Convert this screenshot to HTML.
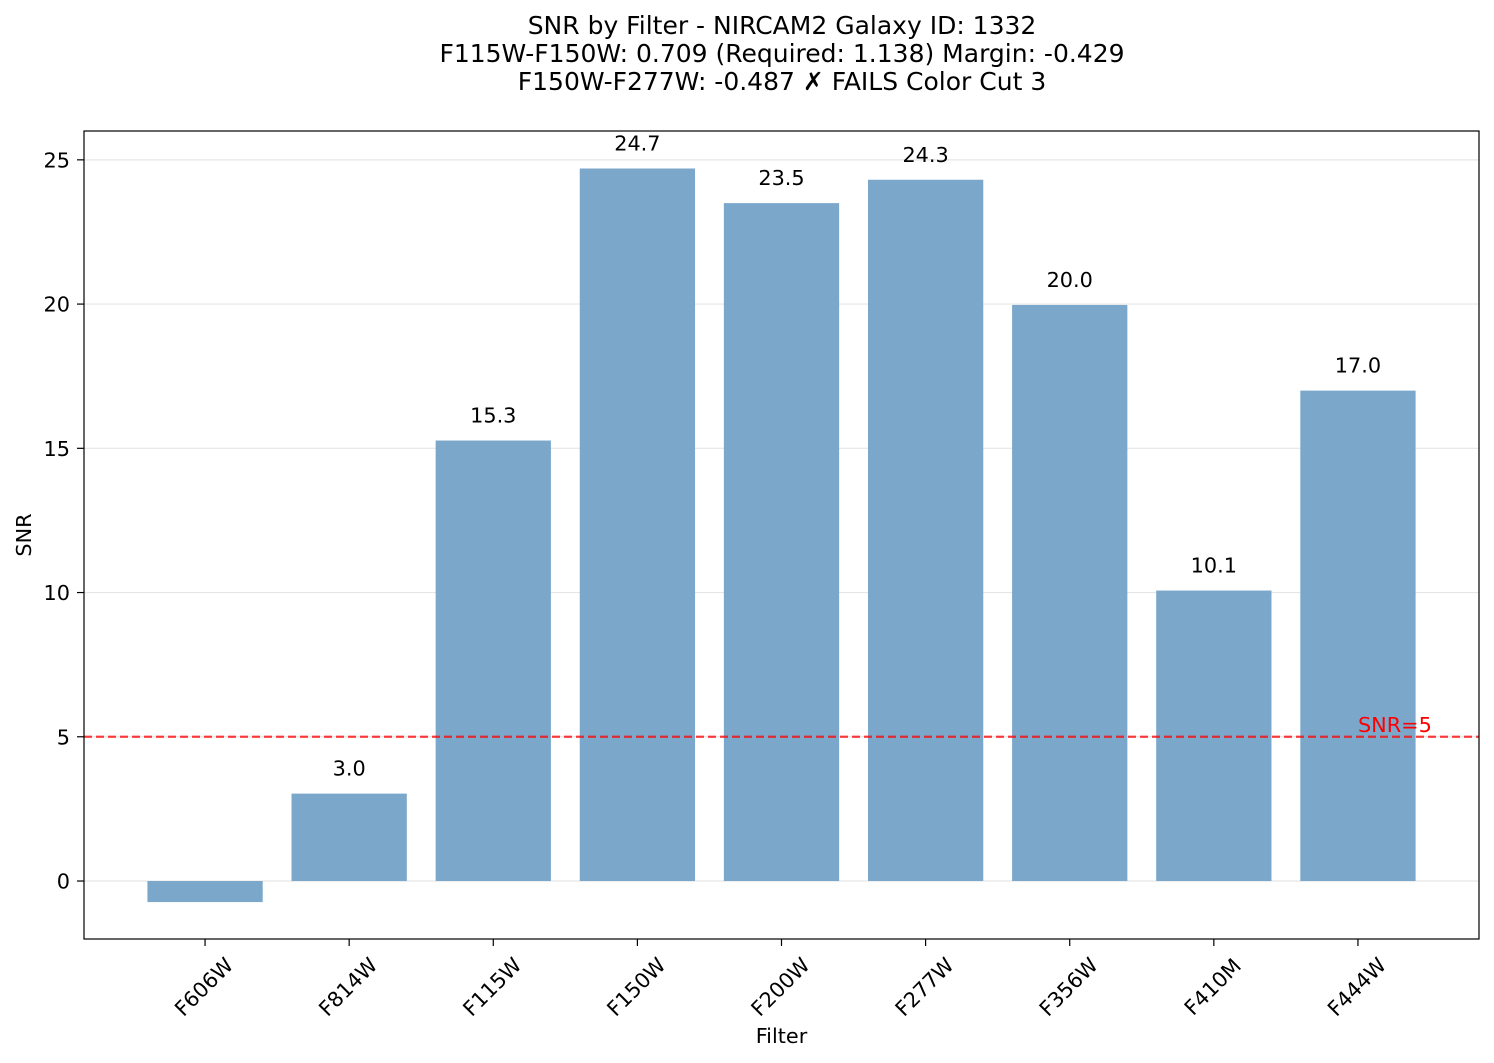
<!DOCTYPE html>
<html><head><meta charset="utf-8"><style>
body{margin:0;background:#fff;}
svg{display:block;font-family:"DejaVu Sans","Liberation Sans",sans-serif;}
</style></head><body>
<svg id="chart" width="1494" height="1063">
<g id="g"></g>
</svg>
<script>
const categories=["F606W","F814W","F115W","F150W","F200W","F277W","F356W","F410M","F444W"];
const snrValues=[-0.73,3.03,15.27,24.7,23.5,24.31,19.97,10.07,17.0];
const valueLabels=["","3.0","15.3","24.7","23.5","24.3","20.0","10.1","17.0"];
const yTicks=[0,5,10,15,20,25];
const threshold=5;
const L=84,R=1479,T=131,B=939;
const xmin=-0.84,xmax=8.84,ymin=-2.01,ymax=26.0;
const X=v=>L+(v-xmin)/(xmax-xmin)*(R-L);
const Y=v=>B-(v-ymin)/(ymax-ymin)*(B-T);
const NS="http://www.w3.org/2000/svg";
const g=document.getElementById('g');
const FS=20.8;
function el(t,a,txt){const e=document.createElementNS(NS,t);for(const k in a)e.setAttribute(k,a[k]);if(txt!==undefined)e.textContent=txt;g.appendChild(e);return e;}
yTicks.forEach(v=>{
 const l=el('line',{x1:L,x2:R,y1:Y(v),y2:Y(v),stroke:'#e6e6e6','stroke-width':1.2});
 
 
 const tk=el('line',{x1:L-7,x2:L,y1:Y(v),y2:Y(v),stroke:'#000','stroke-width':1.2});
 
 
 const t=el('text',{x:L-14,y:Y(v)+7.5,'text-anchor':'end','font-size':FS},String(v));
 
 
});
const bw=0.8*(X(1)-X(0));
categories.forEach((c,i)=>{
 const v=snrValues[i],cx=X(i);
 const r=el('rect',{x:cx-bw/2,y:Math.min(Y(v),Y(0)),width:bw,height:Math.abs(Y(v)-Y(0)),fill:'#7ba7cb'});
 
 
 if(valueLabels[i]){
  const t=el('text',{x:cx,y:Y(v)-18,'text-anchor':'middle','font-size':FS},valueLabels[i]);
  
  
 }
 const tk=el('line',{x1:cx,x2:cx,y1:B,y2:B+7,stroke:'#000','stroke-width':1.2});
 
 
 const t=el('text',{x:0,y:7,'text-anchor':'middle','font-size':FS,transform:`translate(${cx-1} ${B+48}) rotate(-45)`},c);
 
 
});
const th=el('line',{x1:L,x2:R,y1:Y(threshold),y2:Y(threshold),stroke:'#ff0000','stroke-opacity':0.75,'stroke-width':2.2,'stroke-dasharray':'8,4'});


const tl=el('text',{x:X(8),y:Y(threshold)-5,'font-size':FS,fill:'#ff0000'},'SNR='+threshold);


const fr=el('rect',{x:L,y:T,width:R-L,height:B-T,fill:'none',stroke:'#000','stroke-width':1.2});


const xl=el('text',{x:(L+R)/2,y:1043,'text-anchor':'middle','font-size':FS},'Filter');


const yl=el('text',{x:31,y:(T+B)/2,'text-anchor':'middle','font-size':FS,transform:`rotate(-90 31 ${(T+B)/2})`},'SNR');


["SNR by Filter - NIRCAM2 Galaxy ID: 1332","F115W-F150W: 0.709 (Required: 1.138) Margin: -0.429","F150W-F277W: -0.487 ✗ FAILS Color Cut 3"].forEach((s,i)=>{
 const t=el('text',{x:782,y:34+i*28,'text-anchor':'middle','font-size':25},s);
 
 
});
</script>
</body></html>
